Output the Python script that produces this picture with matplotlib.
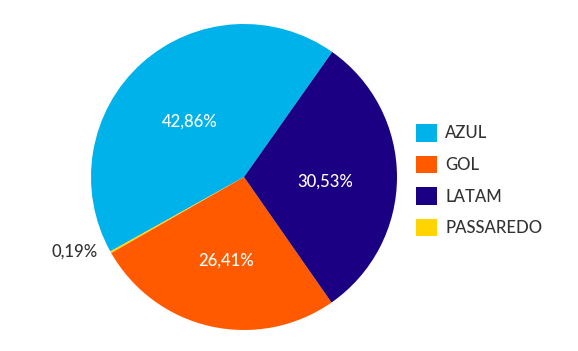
import numpy as np
import matplotlib
matplotlib.use("Agg")
import matplotlib.pyplot as plt
from matplotlib.patches import Patch

plt.rcParams['font.family'] = ['Lato', 'DejaVu Sans']
plt.rcParams['font.weight'] = 'medium'

categories = ["AZUL", "GOL", "LATAM", "PASSAREDO"]
values = [42.86, 26.41, 30.53, 0.19]
labels = ["42,86%", "26,41%", "30,53%", "0,19%"]
colors = ["#00B2EA", "#FF5A00", "#1B0083", "#FFD400"]

# drawing order (counterclockwise from the AZUL/LATAM boundary)
order = [0, 3, 1, 2]

W, H = 578, 351
fig = plt.figure(figsize=(W / 100, H / 100), dpi=100)
cx, cy, r = 244, 177, 153
ax = fig.add_axes([(cx - r) / W, (H - cy - r) / H, 2 * r / W, 2 * r / H])

wedges, _ = ax.pie([values[i] for i in order], colors=[colors[i] for i in order],
                   startangle=54.8, counterclock=True, radius=1, center=(0, 0),
                   wedgeprops=dict(linewidth=0))
ax.set_xlim(-1, 1)
ax.set_ylim(-1, 1)
ax.set_aspect('auto')
ax.axis('off')

for w, i in zip(wedges, order):
    mid = np.deg2rad((w.theta1 + w.theta2) / 2)
    if values[i] < 2:
        ax.text(1.1 * np.cos(mid), 1.1 * np.sin(mid) + 0.05, labels[i],
                ha='right', va='center', fontsize=12, color='#333333')
    else:
        d = 0.53
        ax.text(d * np.cos(mid), d * np.sin(mid) - 0.03, labels[i], ha='center', va='center',
                fontsize=12, color='white')

handles = [Patch(facecolor=c, edgecolor='none') for c in colors]
fig.legend(handles, categories, loc='upper left', bbox_to_anchor=(416 / W, 1 - 124 / H),
           frameon=False, fontsize=12, handlelength=1.25, handleheight=1.25,
           labelspacing=0.84, handletextpad=0.5, borderpad=0, borderaxespad=0,
           labelcolor='#333333')

fig.savefig("out.png", dpi=100)
